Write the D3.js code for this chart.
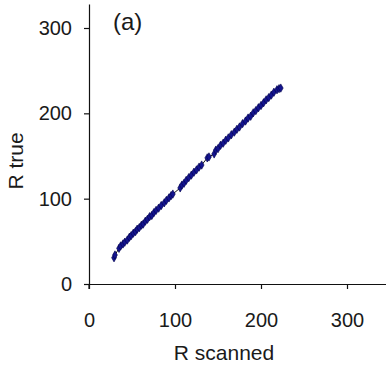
<!DOCTYPE html>
<html>
<head>
<meta charset="utf-8">
<script src="https://cdn.jsdelivr.net/npm/d3@7"></script>
<style>
  html, body { margin: 0; padding: 0; background: #fff; }
  svg { display: block; }
  text { font-family: "Liberation Sans", Arial, sans-serif; fill: #1a1a1a; }
</style>
</head>
<body>
<svg id="chart" width="386" height="368"></svg>
<script>
// Scanned radius vs. true radius
const rScanned = [29.1, 30.2, 34.9, 36.8, 39.5, 41.6, 44.5, 47.0, 49.0,
  51.5, 54.0, 56.0, 58.5, 61.0, 63.0, 65.5, 68.0, 70.5, 73.0,
  75.5, 78.0, 81.0, 84.0, 87.5, 90.0, 93.0, 95.5, 97.5, 106.0,
  108.0, 110.5, 113.0, 116.0, 119.0, 122.0, 125.0, 128.0, 131.0, 137.5,
  139.5, 145.5, 147.5, 150.0, 153.0, 156.0, 159.0, 162.0, 165.5,
  169.0, 172.0, 175.0, 178.5, 182.0, 185.0, 188.0, 191.0, 194.0, 197.0,
  200.0, 203.0, 206.0, 209.0, 212.0, 215.0, 218.6, 221.0, 223.0];
const rTrue = [30.8, 34.0, 41.8, 44.6, 46.9, 49.0, 51.5, 54.8, 56.6,
  59.5, 61.3, 64.2, 66.0, 68.9, 70.2, 73.6, 75.8, 78.9, 80.3,
  83.7, 86.3, 88.9, 92.0, 95.1, 98.0, 100.9, 103.6, 105.4, 112.6,
  115.9, 118.0, 121.4, 124.6, 127.6, 131.0, 133.7, 137.0, 139.4, 147.8,
  148.9, 152.4, 156.9, 158.6, 162.6, 165.0, 168.5, 171.2, 174.9,
  178.0, 181.3, 184.0, 187.9, 191.0, 194.5, 196.6, 200.6, 203.2, 206.5,
  209.2, 212.4, 215.8, 218.4, 221.4, 224.7, 227.6, 228.9, 229.6];
const xTicks = [0, 100, 200, 300];
const yTicks = [0, 100, 200, 300];
const panelLabel = "(a)";
const xTitle = "R scanned";
const yTitle = "R true";

const points = rScanned.map((s, i) => ({ s, t: rTrue[i] }));

const svg = d3.select("#chart");

const x = d3.scaleLinear().domain([0, 350]).range([89, 390]);
const y = d3.scaleLinear().domain([0, 300]).range([284, 28]);

// x axis
const xAxis = svg.append("g")
  .attr("transform", `translate(0,${y(0)})`)
  .call(d3.axisBottom(x).tickValues(xTicks).tickSize(5).tickSizeOuter(0).tickPadding(24));
// y axis, running up to the top of the panel
const yAxis = svg.append("g")
  .attr("transform", `translate(${x(0)},0)`)
  .call(d3.axisLeft(y.copy().domain([0, y.invert(4)]).range([284, 4]))
    .tickValues(yTicks).tickSize(5).tickSizeOuter(0).tickPadding(12));

[xAxis, yAxis].forEach(g => {
  g.selectAll("path.domain").attr("stroke", "#111").attr("stroke-width", 1.2);
  g.selectAll(".tick line").attr("stroke", "#111").attr("stroke-width", 1.2);
  g.selectAll(".tick text")
    .style("font-family", '"Liberation Sans", Arial, sans-serif')
    .style("font-size", "20px").attr("fill", "#1a1a1a");
});
// extend the y axis line below the x axis like a tick
svg.append("line")
  .attr("x1", x(0)).attr("x2", x(0))
  .attr("y1", y(0)).attr("y2", y(0) + 5)
  .attr("stroke", "#111").attr("stroke-width", 1.2);

// connecting line
const line = d3.line().x(d => x(d.s)).y(d => y(d.t));
svg.append("path")
  .datum(points)
  .attr("d", line)
  .attr("fill", "none")
  .attr("stroke", "#111")
  .attr("stroke-width", 1);

// diamond markers
const diamond = d3.symbol().type(d3.symbolDiamond).size(20);
svg.append("g").selectAll("path")
  .data(points)
  .join("path")
  .attr("transform", d => `translate(${x(d.s)},${y(d.t)})`)
  .attr("d", diamond)
  .attr("fill", "#14148f")
  .attr("stroke", "#00004a")
  .attr("stroke-width", 0.6);

// titles
svg.append("text")
  .attr("x", 224).attr("y", 360)
  .attr("text-anchor", "middle")
  .style("font-size", "21px")
  .text(xTitle);

svg.append("text")
  .attr("transform", "translate(23,161) rotate(-90)")
  .attr("text-anchor", "middle")
  .style("font-size", "21px")
  .text(yTitle);

svg.append("text")
  .attr("x", 113).attr("y", 30)
  .style("font-size", "24px")
  .text(panelLabel);
</script>
</body>
</html>
